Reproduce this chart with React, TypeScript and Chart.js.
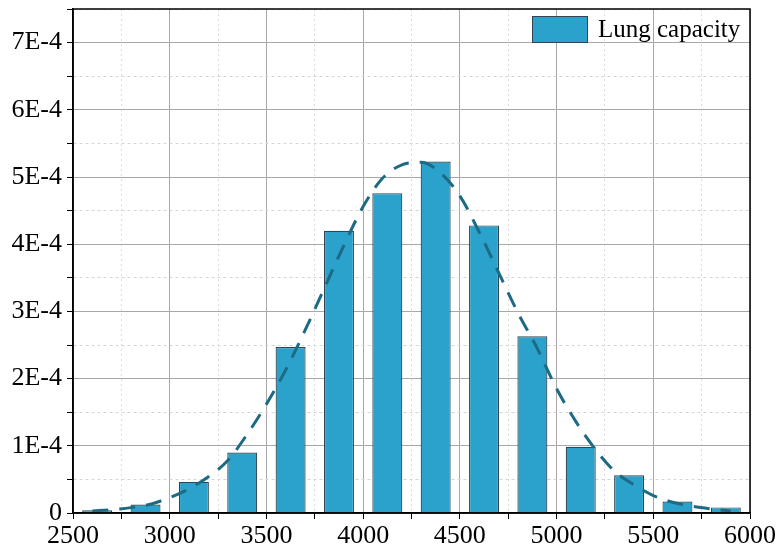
import React, { useEffect, useRef } from "react";
import { Chart, registerables } from "chart.js";

Chart.register(...registerables);

// Histogram bins (centres) and density values
const binCenters = [2625, 2875, 3125, 3375, 3625, 3875, 4125, 4375, 4625, 4875, 5125, 5375, 5625, 5875];
const densities = [
  0.000004, 0.0000125, 0.0000463, 0.00009, 0.000247, 0.00042, 0.000476,
  0.000523, 0.000428, 0.000263, 0.0000985, 0.000056, 0.000017, 0.0000083,
];

// Fitted curve
const curveX = [
  2600, 2700, 2800, 2900, 3000, 3100, 3200, 3300, 3400, 3500, 3600, 3700, 3800, 3900, 4000,
  4100, 4200, 4300, 4400, 4500, 4600, 4700, 4800, 4900, 5000, 5100, 5200, 5300, 5400, 5500,
  5600, 5700, 5800, 5900,
];
const curveY = [
  0.000003, 0.000005, 0.000008, 0.000013, 0.000023, 0.000036, 0.000054, 0.000078, 0.000117,
  0.000162, 0.000213, 0.000272, 0.000335, 0.000398, 0.000456, 0.000498, 0.000518, 0.000522,
  0.000506, 0.000472, 0.000418, 0.000358, 0.000298, 0.000245, 0.000185, 0.000136, 0.000095,
  0.000062, 0.000042, 0.000026, 0.000016, 0.00001, 0.000006, 0.000003,
];

const seriesName = "Lung capacity";
const xTickStep = 250;
const yTickStep = 0.00005;

const FONT = "'Liberation Serif', 'Times New Roman', serif";

const isMinorY = (v: number) => Math.round(v / yTickStep) % 2 !== 0;
const isMinorX = (v: number) => Math.round(v / xTickStep) % 2 !== 0;

const framePlugin = {
  id: "frame",
  afterDraw(chart: any) {
    const { ctx, chartArea } = chart;
    ctx.save();
    ctx.strokeStyle = "#000";
    ctx.lineWidth = 1.5;
    ctx.strokeRect(chartArea.left, chartArea.top, chartArea.right - chartArea.left, chartArea.bottom - chartArea.top);

    // legend inside the plot, top right
    const ds = chart.data.datasets[1];
    const bx = chartArea.right - 218;
    const by = chartArea.top + 7;
    ctx.fillStyle = ds.backgroundColor;
    ctx.fillRect(bx, by, 56, 27);
    ctx.strokeStyle = ds.borderColor;
    ctx.lineWidth = 1;
    ctx.strokeRect(bx + 0.5, by + 0.5, 55, 26);
    ctx.fillStyle = "#000";
    ctx.font = `25px ${FONT}`;
    ctx.textBaseline = "middle";
    ctx.textAlign = "left";
    ctx.fillText(ds.label, bx + 66, by + 14);
    ctx.restore();
  },
};

export default function App() {
  const ref = useRef<HTMLCanvasElement | null>(null);

  useEffect(() => {
    document.body.style.margin = "0";
    const canvas = ref.current;
    if (!canvas) return;
    const chart = new Chart(canvas, {
      type: "bar",
      data: {
        datasets: [
          {
            type: "line",
            label: "fit",
            data: curveX.map((x, i) => ({ x, y: curveY[i] })),
            borderColor: "#1d6a84",
            borderWidth: 3,
            borderDash: [16, 11],
            pointRadius: 0,
            cubicInterpolationMode: "monotone",
            fill: false,
            order: 0,
          } as any,
          {
            type: "bar",
            label: seriesName,
            data: binCenters.map((x, i) => ({ x, y: densities[i] })),
            backgroundColor: "#2ba2cb",
            borderColor: "#2f4650",
            borderWidth: 1.2,
            barPercentage: 0.62,
            categoryPercentage: 1,
            order: 1,
          } as any,
        ],
      },
      options: {
        responsive: false,
        animation: false,
        layout: { padding: { left: 0, right: 30, top: 9, bottom: 0 } },
        plugins: {
          tooltip: { enabled: false },
          legend: { display: false },
        },
        scales: {
          x: {
            type: "linear",
            min: 2500,
            max: 6000,
            offset: false,
            afterFit: (s: any) => {
              s.height = 40;
            },
            ticks: {
              stepSize: xTickStep,
              autoSkip: false,
              maxRotation: 0,
              padding: 2,
              color: "#000",
              font: { family: FONT, size: 26 },
              callback: (v: any) => (isMinorX(Number(v)) ? "" : String(v)),
            },
            grid: {
              offset: false,
              drawTicks: true,
              tickLength: 6,
              tickColor: "#000",
              color: (ctx: any) => (ctx.tick && isMinorX(ctx.tick.value) ? "#dcdcdc" : "#a8a8a8"),
              lineWidth: 1,
            },
            border: {
              color: "#000",
              width: 1.5,
              dash: (ctx: any) => (ctx.tick && isMinorX(ctx.tick.value) ? [2, 3] : []),
            } as any,
          },
          y: {
            type: "linear",
            min: 0,
            max: 0.00075,
            afterFit: (s: any) => {
              s.width = 73;
            },
            ticks: {
              stepSize: yTickStep,
              autoSkip: false,
              padding: 5,
              color: "#000",
              font: { family: FONT, size: 26, lineHeight: 0.3 },
              callback: (v: any) => {
                const n = Math.round(Number(v) / yTickStep);
                if (n % 2 !== 0) return "";
                const k = n / 2;
                return k === 0 ? "0" : `${k}E-4`;
              },
            },
            grid: {
              drawTicks: true,
              tickLength: 6,
              tickColor: "#000",
              color: (ctx: any) => (ctx.tick && isMinorY(ctx.tick.value) ? "#d4d4d4" : "#a8a8a8"),
              lineWidth: 1,
            },
            border: {
              color: "#000",
              width: 1.5,
              dash: (ctx: any) => (ctx.tick && isMinorY(ctx.tick.value) ? [3, 3] : []),
            } as any,
          },
        },
      },
      plugins: [framePlugin],
    });
    return () => chart.destroy();
  }, []);

  return <canvas ref={ref} width={780} height={553} style={{ display: "block" }} />;
}
